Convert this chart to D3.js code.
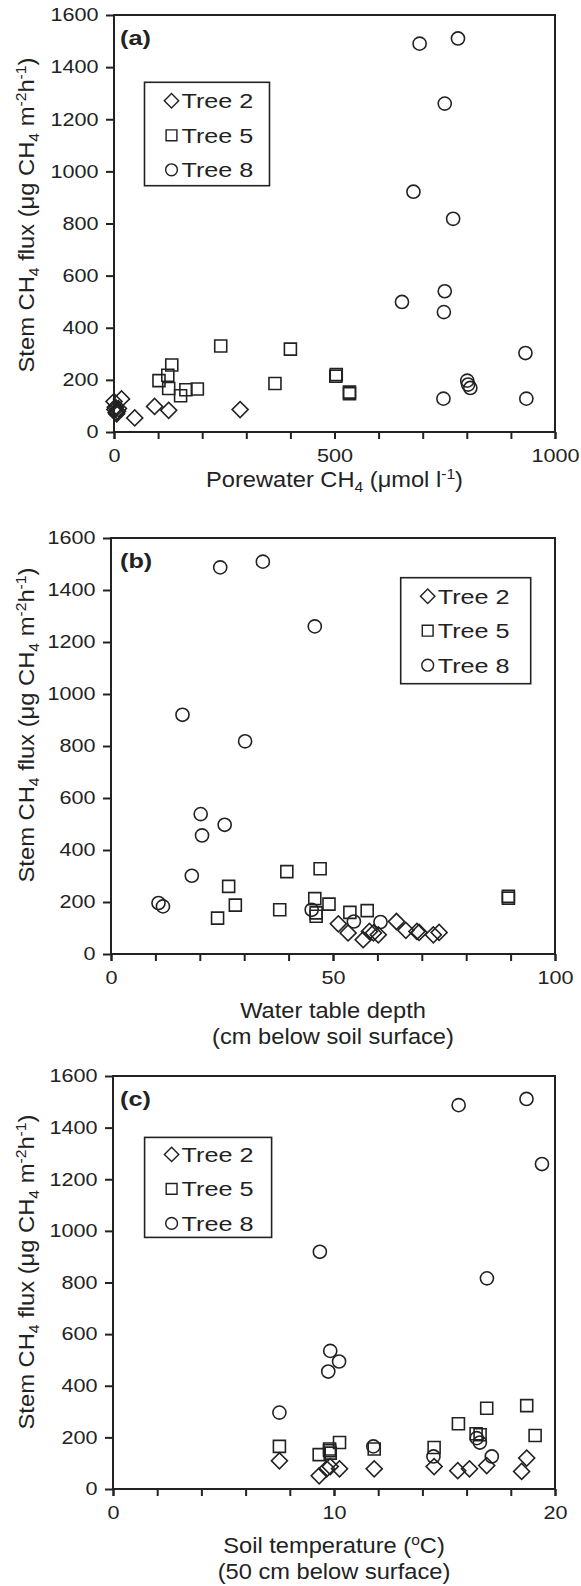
<!DOCTYPE html>
<html>
<head>
<meta charset="utf-8">
<script src="https://cdn.jsdelivr.net/npm/d3@7"></script>
<style>
body { margin: 0; background: #fff; }
svg text { font-family: "Liberation Sans", Arial, sans-serif; fill: #222; }
</style>
</head>
<body>
<svg width="581" height="1586"></svg>
<script>
// values: [x, stem CH4 flux]
const fluxTicks = [0, 200, 400, 600, 800, 1000, 1200, 1400, 1600];
const legendNames = ['Tree 2', 'Tree 5', 'Tree 8'];

// (a) porewater CH4
const poreTicks = [0, 500, 1000];
const poreTree2 = [[0,117],[17,127],[2,86],[5,75],[3,95],[8,80],[6,70],[10,90],[47,54],[92,98],[124,83],[286,86]];
const poreTree5 = [[242,330],[400,318],[131,257],[102,197],[122,218],[124,167],[151,139],[163,162],[189,165],[365,186],[504,220],[503,214],[534,153],[534,147]];
const poreTree8 = [[693,1490],[780,1510],[750,1260],[679,922],[769,818],[750,540],[748,460],[653,499],[933,303],[747,128],[801,197],[803,182],[808,169],[935,128]];

// (b) water table depth
const wtdTicks = [0, 50, 100];
const wtdTree2 = [[51.2,116],[53.4,81],[56.8,55],[58.2,87],[59.1,81],[60.2,74],[64.3,125],[66.4,91],[68.9,87],[69.4,83],[72.6,74],[73.9,83]];
const wtdTree5 = [[24,138],[26.5,260],[28,188],[38,170],[39.6,317],[47.1,328],[45.9,213],[49.1,192],[46.2,158],[46.2,145],[53.8,160],[57.7,167],[89.5,222],[89.5,215]];
const wtdTree8 = [[24.6,1487],[34.2,1509],[45.9,1260],[16.1,920],[30.2,818],[20.2,538],[20.5,456],[25.6,497],[18.2,301],[10.7,196],[11.7,183],[45.2,170],[54.7,125],[60.7,123]];

// (c) soil temperature
const tempTicks = [0, 10, 20];
const tempTree2 = [[7.53,109],[9.33,51],[9.67,78],[9.83,87],[10.25,78],[11.82,78],[14.53,87],[15.6,71],[16.13,78],[16.91,91],[18.49,68],[18.72,120]];
const tempTree5 = [[7.53,165],[9.33,133],[9.8,148],[9.83,139],[9.8,155],[10.25,180],[11.82,155],[14.53,161],[15.63,253],[16.43,214],[16.61,210],[16.91,313],[18.72,323],[19.1,207]];
const tempTree8 = [[9.83,535],[10.23,494],[9.74,455],[7.53,296],[11.78,165],[14.5,126],[16.46,197],[16.6,180],[17.14,126],[15.64,1487],[18.71,1511],[19.41,1259],[9.36,919],[16.92,816]];

const svg = d3.select('svg');
const INK = '#222';
const SX = 1.2;   // the scanned type is wider than Arial
const SXT = 1.08; // axis titles

const shapes = [
    d3.symbol().type(d3.symbolSquare).size(128),   // diamond (rotated)
    d3.symbol().type(d3.symbolSquare).size(144),
    d3.symbol().type(d3.symbolCircle).size(135)
];
const rotations = [45, 0, 0];

// text with sub / superscript parts: [[str, ''|'sub'|'sup'], ...]
function richText(g, parts, size, transform){
    const t = g.append('text')
        .attr('transform', transform)
        .attr('font-size', size)
        .attr('text-anchor', 'middle');
    let off = 0;
    parts.forEach(([s, k]) => {
        const target = k === 'sub' ? size * 0.22 : k === 'sup' ? -size * 0.38 : 0;
        t.append('tspan')
            .attr('dy', target - off)
            .attr('font-size', k ? size * 0.66 : size)
            .text(s);
        off = target;
    });
    return t;
}

function drawPanel(p){
    const g = svg.append('g');
    const x = d3.scaleLinear().domain(p.xDomain).range([p.l, p.r]);
    const y = d3.scaleLinear().domain([0, 1600]).range([p.b, p.t]);

    const yAxis = g.append('g')
        .attr('transform', `translate(${p.l},0)`)
        .call(d3.axisLeft(y).tickValues(fluxTicks).tickSize(8).tickPadding(5).tickFormat(d3.format('d')));
    const xMinor = g.append('g')
        .attr('transform', `translate(0,${p.b})`)
        .call(d3.axisBottom(x).tickValues(p.minor).tickSize(7).tickFormat(''));
    const xAxis = g.append('g')
        .attr('transform', `translate(0,${p.b})`)
        .call(d3.axisBottom(x).tickValues(p.ticks).tickSize(7).tickPadding(10).tickFormat(d3.format('d')));
    for(const a of [yAxis, xMinor, xAxis]){
        a.attr('font-family', null).attr('font-size', null);
        a.select('.domain').remove();
        a.selectAll('line').attr('stroke', INK).attr('stroke-width', 2);
        a.selectAll('text')
            .attr('font-size', 18)
            .attr('fill', INK)
            .attr('transform', `scale(${SX},1)`);
    }

    g.append('rect')
        .attr('x', p.l).attr('y', p.t)
        .attr('width', p.r - p.l).attr('height', p.b - p.t)
        .attr('fill', 'none').attr('stroke', INK).attr('stroke-width', 2);

    p.series.forEach((data, i) => {
        g.append('g').selectAll('path')
            .data(data)
            .enter()
            .append('path')
                .attr('d', shapes[i])
                .attr('transform', (d) => `translate(${x(d[0])},${y(d[1])}) rotate(${rotations[i]})`)
                .attr('fill', 'none')
                .attr('stroke', INK)
                .attr('stroke-width', 1.6);
    });

    // legend
    const [lx, ly, lw, lh, first] = p.legend;
    const lg = g.append('g').attr('transform', `translate(${lx},${ly})`);
    lg.append('rect')
        .attr('width', lw).attr('height', lh)
        .attr('fill', '#fff').attr('stroke', INK).attr('stroke-width', 1.6);
    legendNames.forEach((name, i) => {
        const by = first + i * 34.5;
        lg.append('path')
            .attr('d', shapes[i])
            .attr('transform', `translate(27,${by - 7.5}) rotate(${rotations[i]}) scale(0.9)`)
            .attr('fill', 'none').attr('stroke', INK).attr('stroke-width', 1.6);
        lg.append('text')
            .attr('transform', `translate(37,${by}) scale(${SX},1)`)
            .attr('font-size', 21)
            .text(name);
    });

    g.append('text')
        .attr('transform', `translate(120,${p.t + 30}) scale(${SX},1)`)
        .attr('font-size', 21)
        .attr('font-weight', 'bold')
        .text(p.tag);

    richText(g, [['Stem CH',''],['4','sub'],[' flux (μg CH',''],['4','sub'],[' m',''],['-2','sup'],['h',''],['-1','sup'],[')','']],
        22, `translate(34,${p.yTitleY}) rotate(-90) scale(${SXT},1)`);

    const cx = (p.l + p.r) / 2;
    p.xTitle.forEach((parts, i) => {
        richText(g, parts, 21.5, `translate(${cx},${p.titleY + i * 26}) scale(1.1,1)`);
    });
}

drawPanel({
    l: 114, r: 555, t: 15, b: 432,
    xDomain: [0, 1000], ticks: poreTicks, minor: d3.range(0, 1001, 100),
    series: [poreTree2, poreTree5, poreTree8],
    legend: [144.5, 82.3, 125, 103.4, 26], tag: '(a)', titleY: 487, yTitleY: 215,
    xTitle: [[['Porewater CH',''],['4','sub'],[' (μmol l',''],['-1','sup'],[')','']]]
});
drawPanel({
    l: 111, r: 555, t: 538, b: 954,
    xDomain: [0, 100], ticks: wtdTicks, minor: d3.range(0, 101, 10),
    series: [wtdTree2, wtdTree5, wtdTree8],
    legend: [400.7, 577.7, 130, 106, 26], tag: '(b)', titleY: 1018, yTitleY: 725,
    xTitle: [[['Water table depth','']], [['(cm below soil surface)','']]]
});
drawPanel({
    l: 113, r: 555, t: 1076, b: 1489,
    xDomain: [0, 20], ticks: tempTicks, minor: d3.range(0, 21, 2),
    series: [tempTree2, tempTree5, tempTree8],
    legend: [144.6, 1137.4, 127, 100, 24.5], tag: '(c)', titleY: 1553, yTitleY: 1272,
    xTitle: [[['Soil temperature (',''],['o','sup'],['C)','']], [['(50 cm below surface)','']]]
});
</script>
</body>
</html>
